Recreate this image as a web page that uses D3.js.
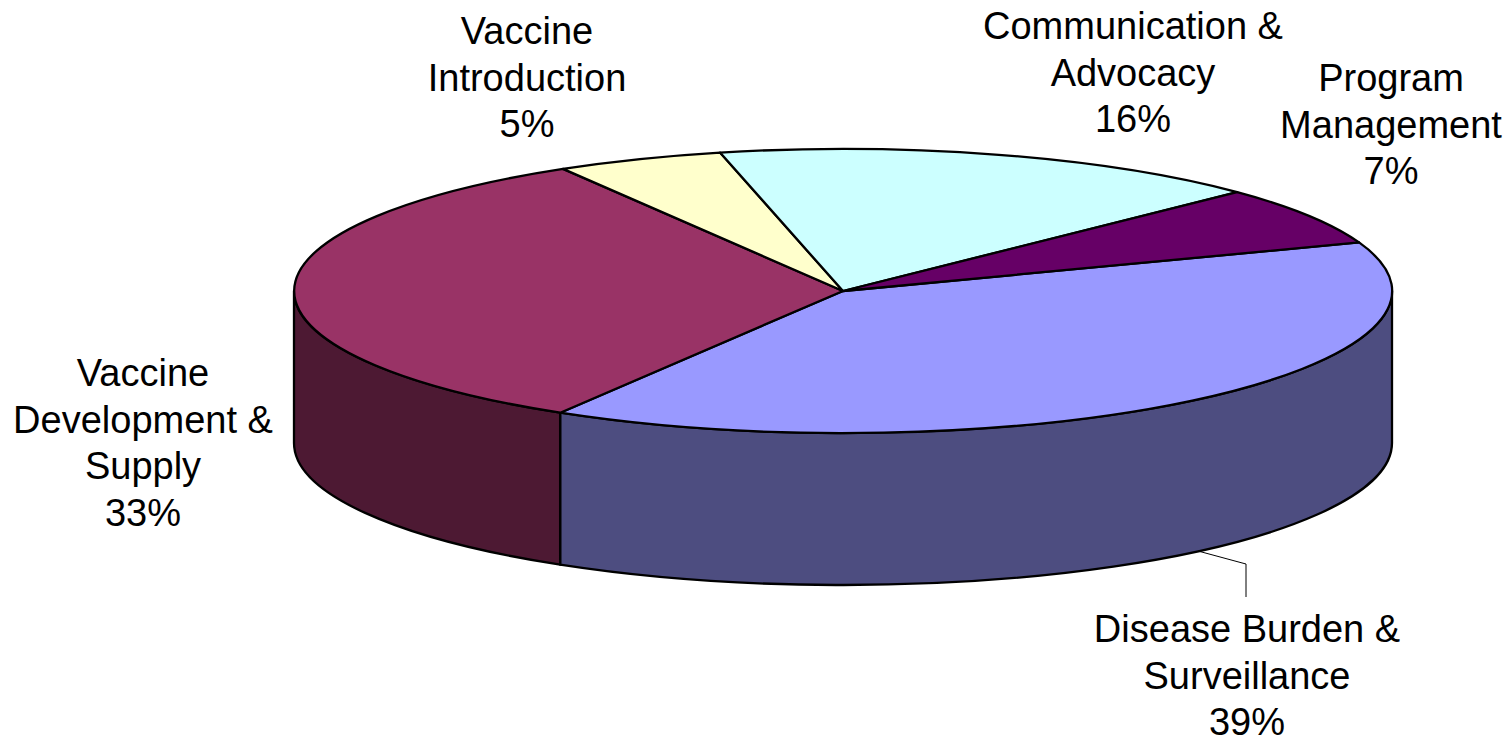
<!DOCTYPE html>
<html>
<head>
<meta charset="utf-8">
<script src="https://cdn.jsdelivr.net/npm/d3@7"></script>
<style>
  html, body { margin: 0; padding: 0; background: #fff; overflow: hidden; }
  text { font-family: "Liberation Sans", Arial, sans-serif; font-size: 38px; fill: #000; }
</style>
</head>
<body>
<div class="chart"></div>
<script>
const width = 1510, height = 739;

// data
const categories = ["Disease Burden & Surveillance", "Vaccine Development & Supply", "Vaccine Introduction", "Communication & Advocacy", "Program Management"];
const shares = [39.17, 32.86, 4.93, 16.34, 6.7];
const labelLines = [
  ["Disease Burden &", "Surveillance", "39%"],
  ["Vaccine", "Development &", "Supply", "33%"],
  ["Vaccine", "Introduction", "5%"],
  ["Communication &", "Advocacy", "16%"],
  ["Program", "Management", "7%"]
];

// layout and look
const topColors = ["#9999ff", "#993366", "#ffffcc", "#ccffff", "#660066"];
const sideColors = ["#4d4d80", "#4d1933", null, null, null];
const labelX = [1247, 143, 527, 1133, 1391];
const labelY = [642, 386, 44, 39, 91];
const lineGap = 46.7;
const cx = 843, cy = 291, rx = 549, ry = 142, depth = 152;
const firstAngle = 70 * Math.PI / 180;
const outline = 2.3;

const svg = d3.select(".chart")
  .append("svg")
  .attr("width", width)
  .attr("height", height)
  .style("display", "block");

const pie = d3.pie()
  .sort(null)
  .startAngle(firstAngle)
  .endAngle(firstAngle + 2 * Math.PI);
const slices = pie(shares);

// d3 pie angles run clockwise from 12 o'clock
const px = a => cx + rx * Math.sin(a);
const py = a => cy - ry * Math.cos(a);

// side wall, only the part of a slice on the front half of the ellipse
function wall(d) {
  const from = Math.max(d.startAngle, Math.PI / 2);
  const to = Math.min(d.endAngle, 3 * Math.PI / 2);
  if (from >= to) return null;
  return `M${px(from)},${py(from)}` +
    `A${rx},${ry} 0 0 1 ${px(to)},${py(to)}` +
    `L${px(to)},${py(to) + depth}` +
    `A${rx},${ry} 0 0 0 ${px(from)},${py(from) + depth}Z`;
}

svg.append("g")
  .selectAll("path")
  .data(slices.filter(d => wall(d)))
  .enter()
  .append("path")
  .attr("d", wall)
  .attr("fill", d => sideColors[d.index])
  .attr("stroke", "#000")
  .attr("stroke-width", outline)
  .attr("stroke-linejoin", "round");

// top face, unit arc squashed into the ellipse
const arc = d3.arc().innerRadius(0).outerRadius(1);

svg.append("g")
  .attr("transform", `translate(${cx},${cy}) scale(${rx},${ry})`)
  .selectAll("path")
  .data(slices)
  .enter()
  .append("path")
  .attr("d", arc)
  .attr("fill", d => topColors[d.index])
  .attr("stroke", "#000")
  .attr("stroke-width", outline)
  .attr("stroke-linejoin", "round")
  .attr("vector-effect", "non-scaling-stroke");

// leader line of the Disease Burden label
svg.append("path")
  .attr("d", "M1198,551L1246,564V597")
  .attr("fill", "none")
  .attr("stroke", "#000")
  .attr("stroke-width", 1);

// labels
const labels = svg.append("g")
  .selectAll("text")
  .data(categories)
  .enter()
  .append("text")
  .attr("text-anchor", "middle")
  .attr("transform", (d, i) => `translate(${labelX[i]},${labelY[i]})`);

labels.selectAll("tspan")
  .data((d, i) => labelLines[i])
  .enter()
  .append("tspan")
  .attr("x", 0)
  .attr("y", (d, i) => i * lineGap)
  .text(d => d);
</script>
</body>
</html>
